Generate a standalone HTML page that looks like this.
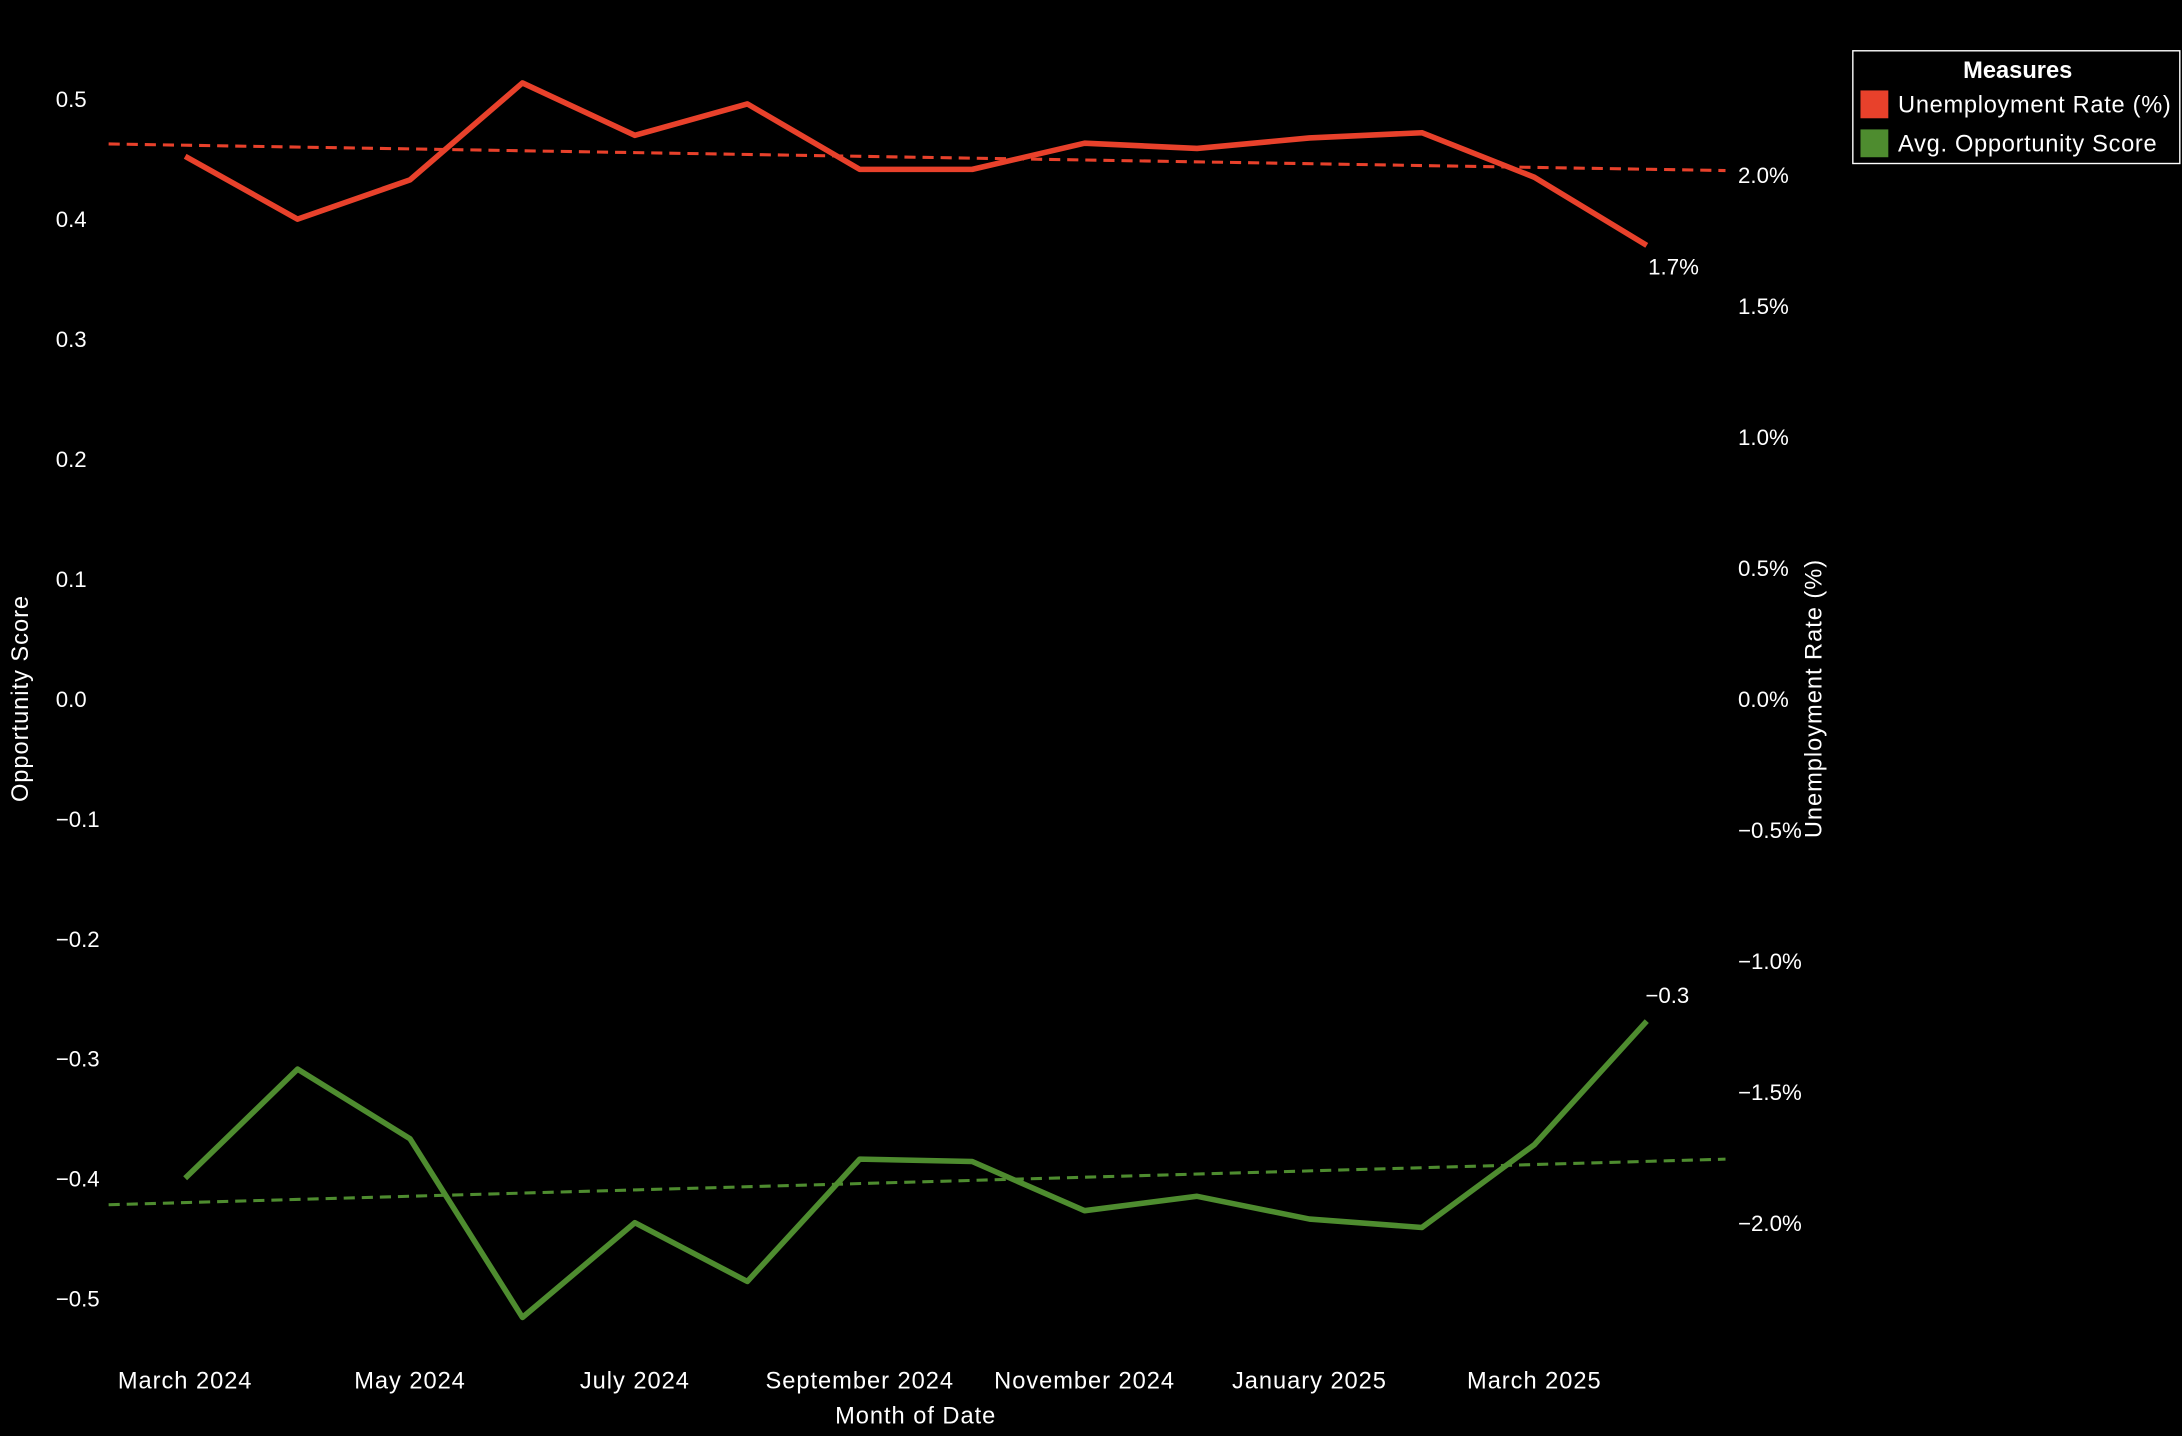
<!DOCTYPE html>
<html><head><meta charset="utf-8"><style>
html,body{margin:0;padding:0;background:#000;}
svg{display:block;font-family:"Liberation Sans",sans-serif;}
.w{font-size:17px;letter-spacing:0.7px;}
</style></head><body>
<svg id="chart" width="2182" height="1436" viewBox="0 0 1568 1032" xmlns="http://www.w3.org/2000/svg">
<rect width="1568" height="1032" fill="#000"/>
<g id="leftTicks"></g>
<g id="rightTicks"></g>
<g id="xTicks"></g>
<g id="series"></g>
<text class="w" x="20" y="502" fill="#fff" text-anchor="middle" transform="rotate(-90 20 502)">Opportunity Score</text>
<text class="w" x="1309" y="502" fill="#fff" text-anchor="middle" transform="rotate(-90 1309 502)">Unemployment Rate (%)</text>
<text class="w" x="658" y="1023" fill="#fff" text-anchor="middle">Month of Date</text>
<g>
<rect x="1331.5" y="36.5" width="235" height="81" fill="#000" stroke="#fff" stroke-width="1"/>
<text x="1450" y="56" fill="#fff" font-size="17" font-weight="bold" text-anchor="middle">Measures</text>
<g><rect x="1337" y="65" width="20" height="20" fill="#e8412b"/><text class="w" x="1364" y="81" fill="#fff" style="letter-spacing:0.5px">Unemployment Rate (%)</text></g>
<g><rect x="1337" y="93" width="20" height="20" fill="#4e8c2f"/><text class="w" x="1364" y="109" fill="#fff" style="letter-spacing:0.5px">Avg. Opportunity Score</text></g>
</g>
</svg>
<script>
const months = ["Mar 2024","Apr 2024","May 2024","Jun 2024","Jul 2024","Aug 2024","Sep 2024","Oct 2024","Nov 2024","Dec 2024","Jan 2025","Feb 2025","Mar 2025","Apr 2025"];
const xTickLabels = ["March 2024","May 2024","July 2024","September 2024","November 2024","January 2025","March 2025"];
const xTickIndex = [0,2,4,6,8,10,12];
const unemployment = [2.07,1.83,1.98,2.35,2.15,2.27,2.02,2.02,2.12,2.10,2.14,2.16,1.99,1.73];
const opportunity = [-0.40,-0.309,-0.367,-0.516,-0.437,-0.486,-0.384,-0.386,-0.427,-0.415,-0.434,-0.441,-0.372,-0.269];
const leftTicks = [0.5,0.4,0.3,0.2,0.1,0.0,-0.1,-0.2,-0.3,-0.4,-0.5];
const rightTicks = [2.0,1.5,1.0,0.5,0.0,-0.5,-1.0,-1.5,-2.0];

const NS="http://www.w3.org/2000/svg";
const xS=i=>133+i*80.8;
const yL=v=>502-v*862;
const yR=v=>502-v*188.25;
function mk(tag,attrs,parent,txt){const e=document.createElementNS(NS,tag);for(const k in attrs)e.setAttribute(k,attrs[k]);if(txt!==undefined)e.textContent=txt;parent.appendChild(e);return e;}
const fmt=v=>(v<0?"\u2212":"")+Math.abs(v).toFixed(1);
const lg=document.getElementById('leftTicks');
leftTicks.forEach(v=>{const t=mk('text',{x:40,y:yL(v)+6,fill:'#fff','font-size':16},lg,fmt(v));

});
const rg=document.getElementById('rightTicks');
rightTicks.forEach(v=>{const t=mk('text',{x:1249,y:yR(v)+6,fill:'#fff','font-size':16},rg,fmt(v)+"%");

});
const xg=document.getElementById('xTicks');
xTickIndex.forEach((idx,k)=>{const t=mk('text',{x:xS(idx),y:998,fill:'#fff','class':'w','text-anchor':'middle'},xg,xTickLabels[k]);

});
const sg=document.getElementById('series');
function trend(vals,ys,color,name){
 const n=vals.length;let sx=0,sy=0,sxx=0,sxy=0;
 vals.forEach((v,i)=>{sx+=i;sy+=v;sxx+=i*i;sxy+=i*v;});
 const b=(n*sxy-sx*sy)/(n*sxx-sx*sx),a=(sy-b*sx)/n;
 const i0=(78-133)/80.8,i1=(1240-133)/80.8;
 const l=mk('line',{x1:xS(i0),y1:ys(a+b*i0),x2:xS(i1),y2:ys(a+b*i1),stroke:color,'stroke-width':2.2,'stroke-dasharray':'8,5'},sg);
 
 
}
function line(vals,ys,color,name){
 const p=mk('polyline',{points:vals.map((v,i)=>xS(i)+','+ys(v)).join(' '),fill:'none',stroke:color,'stroke-width':4,'stroke-linejoin':'round'},sg);
 
 
}
trend(unemployment,yR,'#e8412b','unemployment-trend-line');
trend(opportunity,yL,'#4e8c2f','opportunity-trend-line');
line(unemployment,yR,'#e8412b','unemployment-line');
line(opportunity,yL,'#4e8c2f','opportunity-line');
const n=months.length-1;
const l1=mk('text',{x:xS(n)+1,y:yR(unemployment[n])+21,fill:'#fff','font-size':16},sg,unemployment[n].toFixed(1)+"%");


const l2=mk('text',{x:xS(n)-1,y:yL(opportunity[n])-13,fill:'#fff','font-size':16},sg,fmt(opportunity[n]));


</script>
</body></html>
